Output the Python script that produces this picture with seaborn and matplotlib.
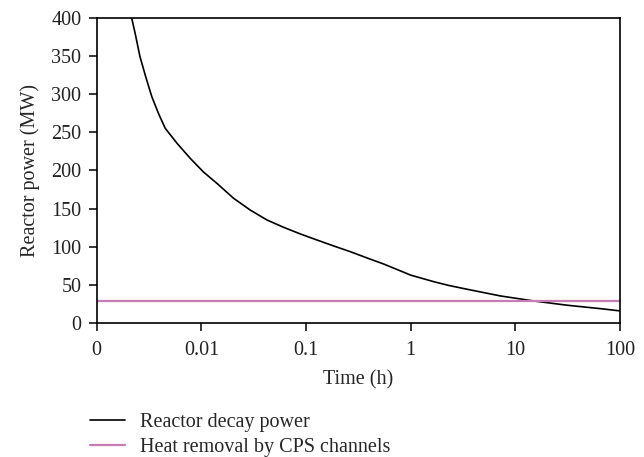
import matplotlib
matplotlib.use("Agg")
import matplotlib.pyplot as plt
import seaborn as sns
import pandas as pd
from matplotlib.lines import Line2D

# Data
time_h = [0.00216, 0.00233, 0.00259, 0.00294, 0.00336, 0.00389, 0.00451, 0.00583,
          0.00782, 0.01047, 0.0141, 0.0203, 0.0293, 0.0423, 0.0611, 0.0882, 0.127,
          0.184, 0.265, 0.384, 0.554, 0.80, 1.0, 1.66, 2.3, 3.47, 7.23, 15.1,
          31.5, 65.5, 100]
decay_power = [400, 380, 349.5, 323, 297, 275, 255.5, 236,
               216, 198, 183, 163.5, 148, 135, 125.3, 116.6, 108.7,
               100.8, 93.3, 85, 77, 68, 62.5, 53.9, 49, 43.9, 35.1, 28.5,
               22.9, 18.4, 15.5]
removal_time = [0.001, 100]
removal_power = [28.5, 28.5]

x_ticks = [0.001, 0.01, 0.1, 1, 10, 100]
x_tick_labels = ["0", "0.01", "0.1", "1", "10", "100"]
y_ticks = [0, 50, 100, 150, 200, 250, 300, 350, 400]

label_decay = "Reactor decay power"
label_removal = "Heat removal by CPS channels"

FS = 14.5

sns.set_style("ticks")
plt.rcParams["font.family"] = ["Liberation Serif", "DejaVu Serif"]
plt.rcParams["font.size"] = FS

fig = plt.figure(figsize=(6.44, 4.57), dpi=100)
ax = fig.add_axes([0.1502, 0.2939, 0.9627 - 0.1502, 0.960 - 0.2939])

df_decay = pd.DataFrame({"t": time_h, "p": decay_power})
df_rem = pd.DataFrame({"t": removal_time, "p": removal_power})

pink = "#c77cb5"
sns.lineplot(data=df_decay, x="t", y="p", ax=ax, color="black", linewidth=1.2)
sns.lineplot(data=df_rem, x="t", y="p", ax=ax, color=pink, linewidth=1.6)

ax.set_xscale("log")
ax.set_xlim(0.001, 100)
ax.set_ylim(0, 400)
ax.set_xticks(x_ticks)
ax.set_xticklabels(x_tick_labels)
ax.minorticks_off()
ax.set_yticks(y_ticks)
ax.set_xlabel("Time (h)", fontsize=FS, labelpad=7)
ax.set_ylabel("Reactor power (MW)", fontsize=FS, labelpad=8)
ax.tick_params(axis="both", labelsize=FS, length=5.5, width=1.1, color="black",
               labelcolor="#222222", direction="out")
ax.tick_params(axis="x", pad=8)
ax.tick_params(axis="y", pad=5.5)

for s in ax.spines.values():
    s.set_visible(True)
    s.set_color("black")
    s.set_linewidth(1.2)

handles = [Line2D([], [], color="black", linewidth=1.2),
           Line2D([], [], color=pink, linewidth=1.6)]
fig.legend(handles, [label_decay, label_removal], loc="upper left",
           bbox_to_anchor=(0.1398, 0.097), frameon=False, borderpad=0,
           borderaxespad=0, handlelength=1.74, handletextpad=0.75,
           labelspacing=0.31, fontsize=FS)

fig.savefig("out.png", dpi=100)
